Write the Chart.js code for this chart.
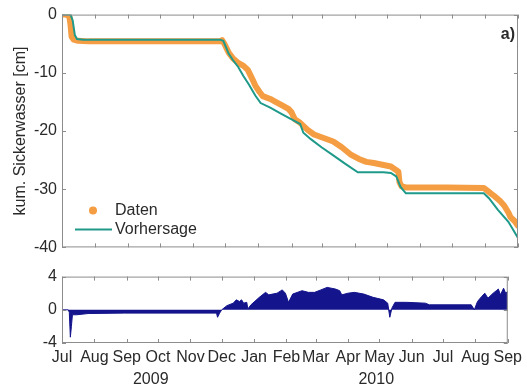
<!DOCTYPE html>
<html>
<head>
<meta charset="utf-8">
<script src="https://cdn.jsdelivr.net/npm/chart.js@4.4.1/dist/chart.umd.min.js"></script>
<style>
body { margin: 0; background: #fff; }
#wrap { position: relative; width: 527px; height: 389px; }
canvas { position: absolute; left: 0; }
#oben { top: 0; }
#unten { top: 262px; }
</style>
</head>
<body>
<div id="wrap">
<canvas id="oben" width="527" height="262"></canvas>
<canvas id="unten" width="527" height="127"></canvas>
</div>
<script>
// Monatsanfänge in Tagen seit 1. Juli 2009
const monatTage = [0, 31, 62, 92, 123, 153, 184, 215, 243, 274, 304, 335, 365, 396, 427];
const monatNamen = ['Jul', 'Aug', 'Sep', 'Oct', 'Nov', 'Dec', 'Jan', 'Feb', 'Mar', 'Apr', 'May', 'Jun', 'Jul', 'Aug', 'Sep'];
const jahre = ['2009', '2010'];
const jahrMitte = [85, 301];

const yTicksOben = [0, -10, -20, -30, -40];
const yTicksUnten = [4, 0, -4];

// gemessenes kumuliertes Sickerwasser [cm]
const datenTage = [0, 4, 7, 8, 9, 11, 15, 25, 60, 100, 148, 150, 152, 156, 160, 165, 170, 174, 178, 181, 185, 188, 195, 200, 207, 212, 215, 218, 223, 230, 236, 245, 254, 262, 270, 278, 285, 292, 300, 308, 312, 315, 316, 318, 322, 360, 395, 398, 402, 405, 410, 414, 418, 420, 424, 427];
const datenWerte = [0, 0, -0.4, -1.8, -3.8, -4.3, -4.5, -4.6, -4.6, -4.6, -4.6, -4.4, -5.0, -6.5, -7.5, -8.3, -8.8, -9.5, -11.0, -12.2, -13.3, -14.0, -14.5, -15.0, -15.7, -16.2, -16.8, -18.0, -18.6, -19.8, -20.6, -21.2, -21.8, -22.8, -24.0, -24.8, -25.3, -25.5, -25.8, -26.1, -26.6, -27.0, -28.8, -29.5, -29.7, -29.7, -29.8, -30.2, -30.8, -31.2, -32.0, -32.8, -34.0, -34.8, -35.5, -36.3];

// Modellvorhersage
const vorhTage = [0, 8, 10, 12, 14, 20, 148, 151, 154, 156, 160, 165, 170, 175, 181, 186, 195, 205, 215, 223, 226, 233, 243, 254, 265, 277, 301, 308, 313, 317, 322, 395, 400, 408, 418, 427];
const vorhWerte = [0, 0, -1.0, -3.5, -4.2, -4.3, -4.3, -4.5, -5.8, -6.7, -7.8, -9.0, -10.6, -12.0, -13.9, -15.2, -16.0, -17.0, -18.0, -18.8, -20.3, -21.4, -22.8, -24.2, -25.6, -27.1, -27.1, -27.2, -27.8, -29.6, -30.7, -30.7, -31.6, -33.5, -35.6, -38.4];

// Differenz Daten - Vorhersage [cm]
const diffTage = [0, 6, 7, 8, 9, 10, 14, 25, 60, 148, 149, 151, 153, 158, 164, 167, 170, 172, 174, 177, 178, 181, 189, 195, 198, 206, 211, 214, 217, 221, 230, 236, 242, 248, 254, 262, 266, 268, 274, 280, 289, 298, 308, 312, 314, 316, 319, 330, 348, 352, 392, 395, 398, 402, 405, 408, 413, 416, 418, 420, 423, 425, 427];
const diffWerte = [0, 0, -0.3, -3.3, -2.0, -0.6, -0.6, -0.45, -0.4, -0.4, -0.9, -0.4, 0, 0.5, 0.8, 1.2, 1.0, 1.2, 0.8, 0.9, 0.1, 0.6, 1.5, 2.1, 1.8, 2.0, 2.4, 2.0, 0.9, 1.9, 2.3, 2.1, 2.1, 2.4, 2.7, 2.5, 2.3, 1.8, 2.0, 2.1, 1.9, 1.5, 1.2, 0.8, -0.9, 0.2, 0.9, 0.9, 0.8, 0.6, 0.6, 0.0, 1.0, 1.6, 2.0, 1.4, 2.0, 2.3, 2.5, 1.8, 2.6, 2.0, 2.2];

const punkte = (xs, ys) => xs.map((x, i) => ({ x: x, y: ys[i] }));

Chart.defaults.font.family = '"Liberation Sans", Arial, Helvetica, sans-serif';
Chart.defaults.font.size = 16;
Chart.defaults.color = '#2a2a2a';

const achsenFarbe = '#8c8c8c';
const schrift = '16px "Liberation Sans", Arial, sans-serif';

// Rahmen und nach innen zeigende Ticks wie bei MATLAB
const rahmen = {
    id: 'rahmen',
    afterDatasetsDraw(chart) {
        const { ctx, chartArea: a, scales } = chart;
        ctx.save();
        ctx.strokeStyle = achsenFarbe;
        ctx.lineWidth = 1;
        ctx.strokeRect(a.left + 0.5, a.top + 0.5, a.right - a.left - 1, a.bottom - a.top - 1);
        ctx.beginPath();
        scales.x.ticks.forEach(t => {
            const px = Math.round(scales.x.getPixelForValue(t.value)) + 0.5;
            ctx.moveTo(px, a.top); ctx.lineTo(px, a.top + 4);
            ctx.moveTo(px, a.bottom); ctx.lineTo(px, a.bottom - 4);
        });
        scales.y.ticks.forEach(t => {
            const py = Math.round(scales.y.getPixelForValue(t.value)) + 0.5;
            ctx.moveTo(a.left, py); ctx.lineTo(a.left + 4, py);
            ctx.moveTo(a.right, py); ctx.lineTo(a.right - 4, py);
        });
        ctx.stroke();
        ctx.restore();
    }
};

// Legende unten links und Beschriftung a)
const legende = {
    id: 'legende',
    afterDraw(chart) {
        const { ctx, chartArea: a } = chart;
        const ds = chart.data.datasets;
        ctx.save();
        ctx.font = schrift;
        ctx.textBaseline = 'middle';
        // Daten: Punkt
        let y = a.bottom - 37;
        ctx.beginPath();
        ctx.arc(a.left + 31, y, 4, 0, Math.PI * 2);
        ctx.fillStyle = ds[0].borderColor;
        ctx.fill();
        ctx.fillStyle = '#2a2a2a';
        ctx.fillText(ds[0].label, a.left + 53, y);
        // Vorhersage: Linie
        y = a.bottom - 18;
        ctx.beginPath();
        ctx.moveTo(a.left + 13, y);
        ctx.lineTo(a.left + 50, y);
        ctx.strokeStyle = ds[1].borderColor;
        ctx.lineWidth = 2;
        ctx.stroke();
        ctx.fillText(ds[1].label, a.left + 53, y);
        // a)
        ctx.font = 'bold 16px "Liberation Sans", Arial, sans-serif';
        ctx.textAlign = 'right';
        ctx.fillText('a)', a.right - 3, a.top + 20);
        ctx.restore();
    }
};

// Jahreszahlen unter den Monaten
const jahresText = {
    id: 'jahresText',
    afterDraw(chart) {
        const { ctx, chartArea: a, scales } = chart;
        ctx.save();
        ctx.font = schrift;
        ctx.textAlign = 'center';
        ctx.textBaseline = 'middle';
        ctx.fillStyle = '#2a2a2a';
        jahre.forEach((j, i) => {
            ctx.fillText(j, scales.x.getPixelForValue(jahrMitte[i]), a.bottom + 37);
        });
        ctx.restore();
    }
};

function xAchse(mitLabels, hoehe) {
    return {
        type: 'linear',
        min: monatTage[0],
        max: monatTage[monatTage.length - 1],
        grid: { display: false, drawTicks: false },
        border: { display: false },
        afterBuildTicks: s => { s.ticks = monatTage.map(v => ({ value: v })); },
        afterFit: s => { s.height = hoehe; },
        ticks: {
            display: mitLabels,
            autoSkip: false,
            maxRotation: 0,
            padding: 5,
            callback: (v, i) => monatNamen[i]
        }
    };
}

function yAchse(werte, titel) {
    return {
        min: Math.min(...werte),
        max: Math.max(...werte),
        grid: { display: false, drawTicks: false },
        border: { display: false },
        afterBuildTicks: s => { s.ticks = werte.map(v => ({ value: v })); },
        afterFit: s => { s.width = 62; },
        ticks: { padding: 5 },
        title: {
            display: !!titel,
            text: titel,
            padding: { top: 11, bottom: 0 },
            font: { size: 16 }
        }
    };
}

new Chart(document.getElementById('oben'), {
    type: 'line',
    data: {
        datasets: [{
            label: 'Daten',
            data: punkte(datenTage, datenWerte),
            borderColor: '#f49d42',
            borderWidth: 6,
            borderCapStyle: 'round',
            borderJoinStyle: 'round',
            pointRadius: 0,
            order: 1
        }, {
            label: 'Vorhersage',
            data: punkte(vorhTage, vorhWerte),
            borderColor: '#1f9a8a',
            borderWidth: 2,
            pointRadius: 0,
            order: 0
        }]
    },
    options: {
        responsive: false,
        devicePixelRatio: 1,
        animation: false,
        layout: { autoPadding: false, padding: { top: 12, right: 9, left: 0, bottom: 0 } },
        plugins: { legend: { display: false }, tooltip: { enabled: false } },
        scales: {
            x: xAchse(false, 5),
            y: yAchse(yTicksOben, 'kum. Sickerwasser [cm]')
        }
    },
    plugins: [rahmen, legende]
});

new Chart(document.getElementById('unten'), {
    type: 'line',
    data: {
        datasets: [{
            label: 'Differenz',
            data: punkte(diffTage, diffWerte),
            borderColor: '#14148c',
            backgroundColor: '#14148c',
            borderWidth: 1,
            fill: 'origin',
            pointRadius: 0
        }]
    },
    options: {
        responsive: false,
        devicePixelRatio: 1,
        animation: false,
        layout: { autoPadding: false, padding: { top: 12, right: 9, left: 0, bottom: 0 } },
        plugins: { legend: { display: false }, tooltip: { enabled: false } },
        scales: {
            x: xAchse(true, 46),
            y: yAchse(yTicksUnten, '')
        }
    },
    plugins: [rahmen, jahresText]
});
</script>
</body>
</html>
